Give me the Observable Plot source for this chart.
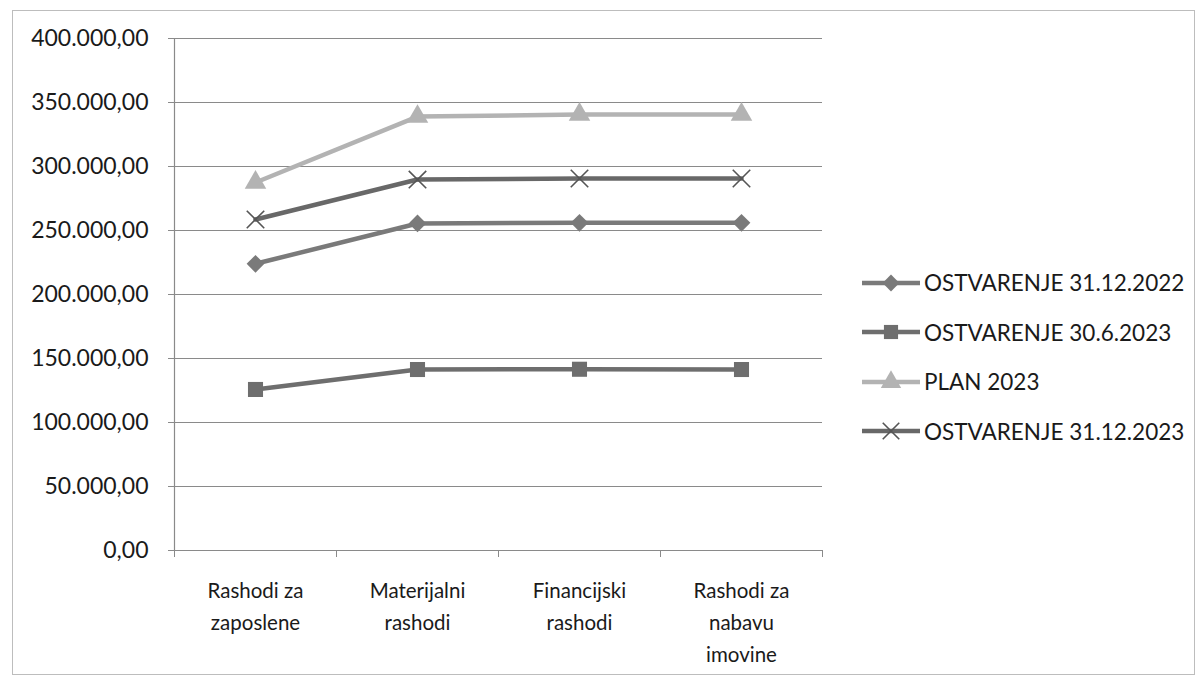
<!DOCTYPE html>
<html>
<head>
<meta charset="utf-8">
<script src="https://cdn.jsdelivr.net/npm/d3@7"></script>
<script src="https://cdn.jsdelivr.net/npm/@observablehq/plot@0.6"></script>
<style>
  html, body { margin: 0; padding: 0; background: #fff; }
  #wrap { position: relative; width: 1204px; height: 680px; overflow: hidden; font-family: Lato, "Open Sans", sans-serif; color: #1a1a1a; }
  #frame { position: absolute; left: 12px; top: 10px; width: 1183px; height: 665px; border: 1px solid #bdbdbd; box-sizing: border-box; pointer-events: none; }
  #chart { position: absolute; left: 0; top: 0; }
  #legend { position: absolute; left: 862px; top: 258px; }
  .item { display: flex; align-items: center; height: 49.5px; font-size: 22.5px; white-space: nowrap; }
  .item svg { display: block; margin-right: 2px; }
</style>
</head>
<body>
<div id="wrap">
  <div id="chart"></div>
  <div id="frame"></div>
  <div id="legend"></div>
</div>
<script>
const categories = ["Rashodi za\nzaposlene", "Materijalni\nrashodi", "Financijski\nrashodi", "Rashodi za\nnabavu\nimovine"];
const seriesNames = ["OSTVARENJE 31.12.2022", "OSTVARENJE 30.6.2023", "PLAN 2023", "OSTVARENJE 31.12.2023"];
const ostvarenje2022 = [224000, 255500, 256000, 256000];
const ostvarenje30062023 = [125800, 141400, 141600, 141400];
const plan2023 = [287500, 339000, 340600, 340600];
const ostvarenje2023 = [258600, 289800, 290600, 290600];
const yTicks = [0, 50000, 100000, 150000, 200000, 250000, 300000, 350000, 400000];

const seriesValues = [ostvarenje2022, ostvarenje30062023, plan2023, ostvarenje2023];
const colors = ["#7a7a7a", "#6e6e6e", "#b3b3b3", "#686868"];
const symbols = ["diamond2", "square", "triangle", "times"];

const data = [];
seriesNames.forEach((s, si) => seriesValues[si].forEach((v, i) => data.push({series: s, i: i + 0.5, value: v})));

const locale = d3.formatLocale({decimal: ",", thousands: ".", grouping: [3], currency: ["", ""]});
const fmt = locale.format(",.2f");

const marks = [
  Plot.gridY(yTicks, {stroke: "#8a8a8a", strokeOpacity: 1, strokeWidth: 1.2}),
  Plot.axisY(yTicks, {tickFormat: fmt, tickSize: 6, tickPadding: 20, fontSize: 23, stroke: "#8a8a8a", fill: "#1a1a1a", label: null}),
  Plot.ruleX([0], {stroke: "#8a8a8a", strokeWidth: 1.2}),
  Plot.ruleY([0], {stroke: "#8a8a8a", strokeWidth: 1.2}),
  Plot.axisX([0, 1, 2, 3, 4], {tickSize: 7, tickFormat: () => "", stroke: "#8a8a8a", label: null}),
  Plot.axisX(categories.map((c, i) => i + 0.5), {tickSize: 0, tickPadding: 25, tickFormat: (d, i) => categories[i], fontSize: 20.5, lineHeight: 1.55, lineAnchor: "top", fill: "#1a1a1a", label: null})
];
seriesNames.forEach((s, si) => {
  const d = data.filter(r => r.series === s);
  marks.push(Plot.line(d, {x: "i", y: "value", stroke: colors[si], strokeWidth: 4.5}));
  if (symbols[si] === "times") {
    marks.push(Plot.dot(d, {x: "i", y: "value", symbol: "times", r: 8, stroke: "#555", strokeWidth: 1.6}));
  } else {
    marks.push(Plot.dot(d, {x: "i", y: "value", symbol: symbols[si], r: symbols[si] === "square" ? 8.5 : 8, fill: colors[si], stroke: "none"}));
  }
});

const chart = Plot.plot({
  width: 1204,
  height: 680,
  marginLeft: 174,
  marginRight: 382,
  marginTop: 38,
  marginBottom: 130,
  style: {fontFamily: "Lato, 'Open Sans', sans-serif", background: "transparent", color: "#1a1a1a"},
  x: {type: "linear", domain: [0, 4], axis: null, label: null},
  y: {domain: [0, 400000], axis: null, label: null},
  marks
});
document.getElementById("chart").appendChild(chart);

const legend = document.getElementById("legend");
seriesNames.forEach((s, si) => {
  const item = document.createElement("div");
  item.className = "item";
  const svg = d3.create("svg").attr("width", 60).attr("height", 24);
  svg.append("line").attr("x1", 0).attr("x2", 58).attr("y1", 12).attr("y2", 12).attr("stroke", colors[si]).attr("stroke-width", 4.5);
  const symMap = {diamond2: d3.symbolDiamond2, square: d3.symbolSquare, triangle: d3.symbolTriangle, times: d3.symbolTimes};
  const size = symbols[si] === "square" ? 200 : 180;
  const p = svg.append("path").attr("transform", "translate(29,12)").attr("d", d3.symbol(symMap[symbols[si]], size)());
  if (symbols[si] === "times") p.attr("fill", "none").attr("stroke", "#555").attr("stroke-width", 1.6);
  else p.attr("fill", colors[si]);
  item.appendChild(svg.node());
  const t = document.createElement("span");
  t.textContent = s;
  item.appendChild(t);
  legend.appendChild(item);
});
</script>
</body>
</html>
